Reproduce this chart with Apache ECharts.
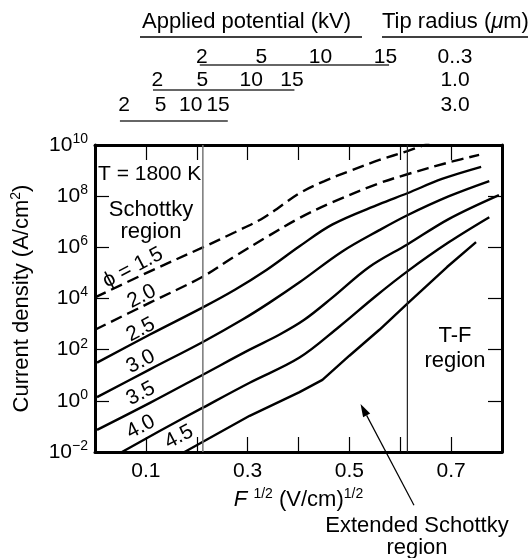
<!DOCTYPE html>
<html><head><meta charset="utf-8">
<script src="https://cdn.jsdelivr.net/npm/echarts@6/dist/echarts.min.js"></script>
<style>html,body{margin:0;padding:0;background:#fff}#c{width:529px;height:558px}</style>
</head><body><div id="c"></div>
<script>
// ---- data: F^(1/2) (V/cm)^(1/2) and current density J (A/cm^2) per work function ----
const fPhi15 = [0, 0.108, 0.212, 0.275, 0.333, 0.402, 0.451, 0.5, 0.559, 0.614, 0.657];
const jPhi15 = [1.1e4, 1.15e5, 1.0e6, 3.9e6, 1.5e7, 1.3e8, 3.9e8, 9.5e8, 2.6e9, 5.8e9, 1.2e10];
const fPhi20 = [0, 0.108, 0.212, 0.275, 0.337, 0.402, 0.467, 0.559, 0.614, 0.696, 0.755];
const jPhi20 = [6.0e2, 6.9e3, 7.2e4, 4.5e5, 2.5e6, 1.4e7, 5.8e7, 3.2e8, 7.2e8, 2.1e9, 4.1e9];
const fPhi25 = [0.004, 0.108, 0.212, 0.275, 0.337, 0.402, 0.467, 0.559, 0.614, 0.682, 0.759];
const jPhi25 = [31, 3.9e2, 4.5e3, 2.2e4, 1.3e5, 1.1e6, 7.9e6, 4.9e7, 1.3e8, 4.7e8, 1.4e9];
const fPhi30 = [0.004, 0.108, 0.212, 0.29, 0.343, 0.402, 0.486, 0.559, 0.614, 0.696, 0.775];
const jPhi30 = [1.4, 17, 2.0e2, 1.5e3, 6.9e3, 4.3e4, 6.9e5, 4.7e6, 1.8e7, 1.0e8, 3.9e8];
const fPhi35 = [0.004, 0.108, 0.212, 0.304, 0.363, 0.412, 0.467, 0.539, 0.614, 0.696, 0.794];
const jPhi35 = [0.073, 0.83, 10.5, 100, 3.9e2, 1.5e3, 1.1e4, 1.7e5, 1.3e6, 1.3e7, 1.1e8];
const fPhi40 = [0.053, 0.127, 0.212, 0.304, 0.402, 0.48, 0.551, 0.614, 0.696, 0.775];
const jPhi40 = [0.01, 0.066, 0.54, 5.1, 49, 7.9e2, 1.2e4, 1.15e5, 1.6e6, 1.5e7];
const fPhi45 = [0.176, 0.304, 0.402, 0.447, 0.5, 0.559, 0.614, 0.692, 0.749];
const jPhi45 = [0.01, 0.26, 2.2, 6.6, 58, 6.0e2, 6.3e3, 1.7e5, 1.6e6];

const phiLabels = ['ϕ = 1.5', '2.0', '2.5', '3.0', '3.5', '4.0', '4.5'];
const phiLabelF = [0.0745, 0.092, 0.09, 0.09, 0.09, 0.09, 0.165];
const phiLabelJ = [1.6e5, 1.2e4, 6.0e2, 34, 1.9, 0.095, 0.039];

// region boundaries (F^1/2)
const boundaryF = [0.212, 0.614];

// axis ticks
const yTickValues = [1e-2, 1e0, 1e2, 1e4, 1e6, 1e8, 1e10];
const xLabelsShown = ['0.1', '0.3', '0.5', '0.7'];

// secondary scales: applied potential (kV) for each tip radius
const potentialLabels = ['2', '5', '10', '15'];
const tipRadiusLabels = ['0..3', '1.0', '3.0'];
const potentialF = [
  [0.21, 0.327, 0.443, 0.571],
  [0.1225, 0.211, 0.307, 0.387],
  [0.057, 0.129, 0.188, 0.242]
];
const scaleLineF = [[0.206, 0.578], [0.114, 0.392], [0.049, 0.261]];

// arrow of "Extended Schottky region": tail and tip (F, J)
const arrowF = [0.627, 0.522];
const arrowJ = [8.3e-5, 0.76];

const FONT = '"Liberation Sans", Arial, Helvetica, sans-serif';
const chart = echarts.init(document.getElementById('c'), null, {renderer: 'canvas'});

const curves = [
  [fPhi15, jPhi15, true, 0.35], [fPhi20, jPhi20, true, 0.35], [fPhi25, jPhi25, false, 0.35],
  [fPhi30, jPhi30, false, 0.35], [fPhi35, jPhi35, false, 0.35], [fPhi40, jPhi40, false, 0.35],
  [fPhi45, jPhi45, false, 0]
];
const series = curves.map(([f, j, dashed, sm]) => ({
  type: 'line', data: f.map((x, i) => [x, j[i]]), showSymbol: false, symbol: 'none',
  smooth: sm, silent: true, animation: false, clip: true,
  lineStyle: {color: '#000', width: 2.4, type: dashed ? [12, 6] : 'solid', cap: 'butt'}
}));
boundaryF.forEach((b, k) => series.push({
  type: 'line', data: [[b, 1e-2], [b, 1e10]], showSymbol: false, symbol: 'none', silent: true,
  animation: false, lineStyle: {color: k === 0 ? '#777' : '#222', width: k === 0 ? 1.5 : 1.2}
}));

const supRich = {
  b: {fontSize: 21, fontFamily: FONT, color: '#000', lineHeight: 26},
  s: {fontSize: 14, fontFamily: FONT, color: '#000', verticalAlign: 'top', lineHeight: 16},
  i: {fontSize: 22, fontFamily: FONT, color: '#000', fontStyle: 'italic', lineHeight: 26}
};

const axisCommon = {
  axisLine: {show: true, onZero: false, lineStyle: {color: '#000', width: 3}},
  axisTick: {show: true, inside: true, length: 15, lineStyle: {color: '#000', width: 1.2}},
  splitLine: {show: false}
};

chart.setOption({
  animation: false,
  grid: {left: 95, right: 27, top: 145, bottom: 106},
  xAxis: [
    Object.assign({}, axisCommon, {
      type: 'value', min: 0, max: 0.8, interval: 0.1, position: 'bottom',
      axisLabel: {
        margin: 9, fontSize: 21, fontFamily: FONT, color: '#000',
        formatter: v => { const s = (Math.round(v * 10) / 10).toFixed(1); return xLabelsShown.includes(s) ? s : ''; }
      },
      name: '{i|F} {s|1/2} (V/cm){s|1/2}', nameLocation: 'middle', nameGap: 33,
      nameTextStyle: {fontSize: 22, fontFamily: FONT, color: '#000', lineHeight: 26, rich: supRich}
    }),
    Object.assign({}, axisCommon, {
      type: 'value', min: 0, max: 0.8, interval: 0.1, position: 'top', axisLabel: {show: false}
    })
  ],
  yAxis: [
    Object.assign({}, axisCommon, {
      type: 'log', logBase: 10, min: 1e-2, max: 1e10, position: 'left', interval: 2,
      axisTick: {show: true, inside: true, length: 14, customValues: yTickValues, lineStyle: {color: '#000', width: 1.2}},
      axisLabel: {
        margin: 7, color: '#000', rich: supRich, customValues: yTickValues,
        formatter: v => { const e = Math.round(Math.log10(v)); return '{b|10}{s|' + (e < 0 ? '\u2212' + (-e) : e) + '}'; }
      },
      name: 'Current density (A/cm{s|2})', nameLocation: 'middle', nameGap: 60, nameRotate: 90,
      nameTextStyle: {fontSize: 22, fontFamily: FONT, color: '#000', lineHeight: 26, rich: supRich}
    }),
    Object.assign({}, axisCommon, {
      type: 'log', logBase: 10, min: 1e-2, max: 1e10, position: 'right', interval: 2,
      axisTick: {show: true, inside: true, length: 14, customValues: yTickValues, lineStyle: {color: '#000', width: 1.2}},
      axisLabel: {show: false, customValues: yTickValues}
    })
  ],
  series: series
});

const px = (f, j) => chart.convertToPixel({xAxisIndex: 0, yAxisIndex: 0}, [f, j]);
const txt = (x, y, text, opts) => ({
  type: 'text', x: x, y: y, silent: true, z: 50, rotation: (opts && opts.rotation) || 0,
  style: Object.assign({text: text, font: ((opts && opts.size) || 22) + 'px ' + FONT, fill: '#000', textAlign: 'center', textVerticalAlign: 'middle'}, opts && opts.style)
});
const g = [];
// header
g.push(txt(142, 22, 'Applied potential (kV)', {style: {textAlign: 'left'}}));
g.push({type: 'text', x: 382, y: 22, silent: true, style: {
  text: '{n|Tip radius (}{i|\u03bc}{n|m)}', textAlign: 'left', textVerticalAlign: 'middle',
  rich: {n: {font: '22px ' + FONT, fill: '#000'}, i: {font: 'italic 22px ' + FONT, fill: '#000'}}}});
g.push({type: 'line', silent: true, shape: {x1: 140, y1: 37, x2: 362, y2: 37}, style: {stroke: '#000', lineWidth: 1.5}});
g.push({type: 'line', silent: true, shape: {x1: 382, y1: 37, x2: 528, y2: 37}, style: {stroke: '#000', lineWidth: 1.5}});
const rowTextY = [57, 80, 105];
const rowLineY = [65, 90, 121];
potentialF.forEach((row, r) => {
  row.forEach((f, k) => { const p = px(f, 1); g.push(txt(p[0], rowTextY[r], potentialLabels[k], {size: 21})); });
  const a = px(scaleLineF[r][0], 1), b = px(scaleLineF[r][1], 1);
  g.push({type: 'line', silent: true, shape: {x1: a[0], y1: rowLineY[r], x2: b[0], y2: rowLineY[r]}, style: {stroke: '#333', lineWidth: 1.5}});
  g.push(txt(455, rowTextY[r], tipRadiusLabels[r], {size: 21}));
});
// curve labels
phiLabels.forEach((l, k) => {
  const p = px(phiLabelF[k], phiLabelJ[k]);
  g.push(txt(p[0], p[1], l, {rotation: 0.48, size: 21}));
});
// region texts
g.push(txt(98, 174, 'T = 1800 K', {style: {textAlign: 'left'}, size: 21}));
g.push(txt(151, 221, 'Schottky\nregion', {style: {lineHeight: 22}}));
g.push(txt(455, 348, 'T-F\nregion', {style: {lineHeight: 25}}));
g.push(txt(417, 537, 'Extended Schottky\nregion', {style: {lineHeight: 22}}));
// arrow
const t0 = px(arrowF[0], arrowJ[0]), t1 = px(arrowF[1], arrowJ[1]);
const dx = t1[0] - t0[0], dy = t1[1] - t0[1], L = Math.hypot(dx, dy), ux = dx / L, uy = dy / L;
const hl = 13, hw = 4;
const bx = t1[0] - ux * hl, by = t1[1] - uy * hl;
g.push({type: 'line', silent: true, shape: {x1: t0[0], y1: t0[1], x2: bx, y2: by}, style: {stroke: '#000', lineWidth: 1.2}});
g.push({type: 'polygon', silent: true, shape: {points: [[t1[0], t1[1]], [bx - uy * hw, by + ux * hw], [bx + uy * hw, by - ux * hw]]}, style: {fill: '#000'}});
chart.setOption({graphic: g});
</script></body></html>
